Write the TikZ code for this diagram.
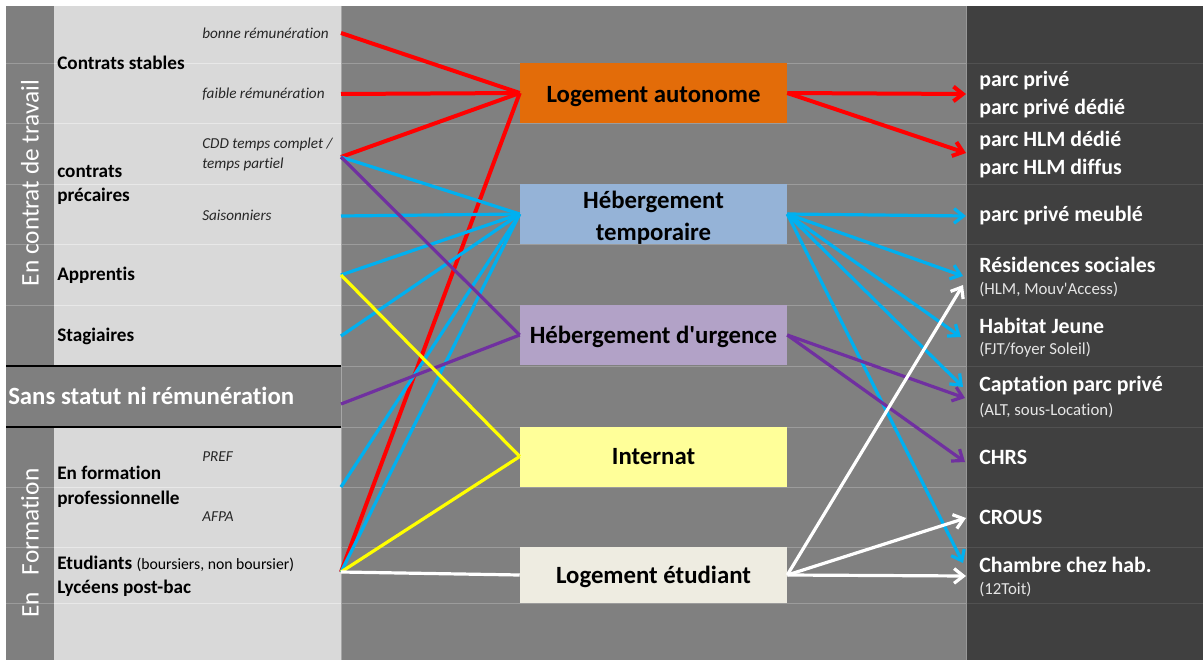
\documentclass[tikz,border=0pt]{standalone}
\usepackage{fontspec}
\setmainfont{Carlito}[Ligatures={TeXOff,NoCommon}]
\usetikzlibrary{arrows.meta}

\definecolor{stripgray}{HTML}{7F7F7F}
\definecolor{panelgray}{HTML}{D9D9D9}
\definecolor{midgray}{HTML}{808080}
\definecolor{darkpanel}{HTML}{404040}
\definecolor{autoorange}{HTML}{E36C09}
\definecolor{tempblue}{HTML}{95B3D7}
\definecolor{urgpurple}{HTML}{B2A2C7}
\definecolor{internyellow}{HTML}{FFFF99}
\definecolor{etudbeige}{HTML}{EEECE1}
\definecolor{linkred}{HTML}{FF0000}
\definecolor{linkblue}{HTML}{00B0F0}
\definecolor{linkpurple}{HTML}{7030A0}
\definecolor{linkyellow}{HTML}{FFFF00}

% lower a box text without changing the box size
\newcommand{\lowtext}[2]{\raisebox{-#1}[\height][\depth]{#2}}

\begin{document}
\begin{tikzpicture}[x=0.75pt, y=-0.75pt,
  srclab/.style={anchor=west, inner sep=0pt, align=left,
    font=\fontsize{14.4}{18.5}\selectfont\bfseries},
  sublab/.style={anchor=west, inner sep=0pt, align=left,
    font=\fontsize{11.4}{15}\selectfont\itshape, text=black!85},
  dstlab/.style={anchor=west, inner sep=0pt, text=white,
    font=\fontsize{16.4}{20}\selectfont\bfseries},
  dstnote/.style={anchor=west, inner sep=0pt, text=white!90!black,
    font=\fontsize{12.6}{14}\selectfont},
  sidelab/.style={rotate=90, inner sep=0pt, text=white,
    font=\fontsize{19}{22}\selectfont},
  hbox/.style={minimum width=200.25pt, minimum height=45pt, inner sep=0pt,
    align=center, font=\fontsize{18.6}{24}\selectfont\bfseries},
  link/.style={line width=2.4pt},
  tip/.style={-{Straight Barb[length=7pt,width=11pt]}}]

  % ------------------------------------------------------------
  % column limits (pixel grid, y downwards)
  % ------------------------------------------------------------
  \def\xS{6}      % left edge
  \def\xP{54}     % end of side strip
  \def\xL{341}    % end of left panel
  \def\xR{966}    % start of right panel
  \def\xE{1203}   % right edge

  \useasboundingbox (0,0) rectangle (1203,660);
  \fill[white] (0,0) rectangle (1203,660);

  % 1. Background panels
  \fill[stripgray] (\xS,6) rectangle (\xP,660);
  \fill[panelgray] (\xP,6) rectangle (\xL,366);
  \fill[stripgray] (\xS,366) rectangle (\xL,427);
  \fill[panelgray] (\xP,427) rectangle (\xL,660);
  \fill[midgray] (\xL,6) rectangle (\xR,660);
  \fill[darkpanel] (\xR,6) rectangle (\xE,660);

  % faint row lines
  \foreach \gy in {63,123,184,244,305,487,547,603}{
    \draw[line width=0.6pt, black!9] (\xP,\gy) -- (\xL,\gy);
    \draw[line width=0.6pt, white!22!stripgray] (\xS,\gy) -- (\xP,\gy);
  }
  \foreach \gy in {63,123,184,244,305,366,427,487,547,603}{
    \draw[line width=0.6pt, white!22!midgray] (\xL,\gy) -- (\xR,\gy);
    \draw[line width=0.6pt, white!9!darkpanel] (\xR,\gy) -- (\xE,\gy);
  }
  \draw[line width=0.6pt, white!30!midgray] (\xL,6) -- (\xL,660);
  \draw[line width=0.6pt, white!18!midgray] (\xR,6) -- (\xR,660);

  % black separators around the "sans statut" band
  \draw[line width=1.5pt, black] (\xS,366) -- (\xL,366);
  \draw[line width=1.5pt, black] (\xS,427) -- (\xL,427);

  % 2. Left column labels
  \node[sidelab] (contrat) at (30,183) {En contrat de travail};
  \node[sidelab] (formation) at (30,543) {En\hspace{0.65em}Formation};

  \node[srclab] (stables) at (57,63) {Contrats stables};
  \node[srclab] (precaires) at (57,185) {contrats\\précaires};
  \node[srclab] (apprentis) at (57,275) {Apprentis};
  \node[srclab] (stagiaires) at (57,336) {Stagiaires};
  \node[srclab] (profession) at (57,487) {En formation\\professionnelle};
  \node[srclab] (etudiants) at (57,564) {Etudiants {\fontsize{11.8}{14}\selectfont\mdseries (boursiers, non boursier)}};
  \node[srclab] (lyceens) at (57,588) {Lycéens post-bac};
  \node[anchor=west, inner sep=0pt, text=white,
        font=\fontsize{18.6}{22}\selectfont\bfseries] (sansstatut) at (8,396) {Sans statut ni rémunération};

  \node[sublab] (bonnerem) at (202,33) {bonne rémunération};
  \node[sublab] (faiblerem) at (202,94) {faible rémunération};
  \node[sublab] (cddlab) at (202,154) {CDD temps complet /\\temps partiel};
  \node[sublab] (saisonlab) at (202,215) {Saisonniers};
  \node[sublab] (preflab) at (202,457) {PREF};
  \node[sublab] (afpalab) at (202,517) {AFPA};

  % start points on the panel edge
  \coordinate (bonne) at (\xL,33);
  \coordinate (faible) at (\xL,94);
  \coordinate (cdd) at (\xL,157);
  \coordinate (saison) at (\xL,216);
  \coordinate (appr) at (\xL,275);
  \coordinate (stag) at (\xL,336);
  \coordinate (sansst) at (\xL,404);
  \coordinate (form) at (\xL,487);
  \coordinate (etud) at (\xL,572);

  % 3. Housing boxes
  \node[hbox, fill=autoorange] (autonome) at (653.5,93) {\lowtext{2.5pt}{Logement autonome}};
  \node[hbox, fill=tempblue] (temporaire) at (653.5,214) {\lowtext{3pt}{Hébergement}\\\lowtext{3pt}{temporaire}};
  \node[hbox, fill=urgpurple] (urgence) at (653.5,335) {\lowtext{1.5pt}{Hébergement d'urgence}};
  \node[hbox, fill=internyellow] (internat) at (653.5,456.5) {Internat};
  \node[hbox, fill=etudbeige, minimum height=42pt] (etudiant) at (653.5,575) {\lowtext{1.5pt}{Logement étudiant}};

  % 4. Right column labels
  \node[dstlab] (prive) at (979,81) {parc privé};
  \node[dstlab] (privededie) at (979,109) {parc privé dédié};
  \node[dstlab] (hlmdedie) at (979,141) {parc HLM dédié};
  \node[dstlab] (hlmdiffus) at (979,169) {parc HLM diffus};
  \node[dstlab] (meuble) at (979,216) {parc privé meublé};
  \node[dstlab] (residences) at (979,265) {Résidences sociales};
  \node[dstnote] (residnote) at (979,290) {(HLM, Mouv'Access)};
  \node[dstlab] (jeune) at (979,326) {Habitat Jeune};
  \node[dstnote] (jeunenote) at (979,350) {(FJT/foyer Soleil)};
  \node[dstlab] (captation) at (979,386) {Captation parc privé};
  \node[dstnote] (captnote) at (979,411) {(ALT, sous-Location)};
  \node[dstlab] (chrs) at (979,457) {CHRS};
  \node[dstlab] (crous) at (979,517) {CROUS};
  \node[dstlab] (chambre) at (979,565) {Chambre chez hab.};
  \node[dstnote] (chambrenote) at (979,590) {(12Toit)};

  % arrow ends on the right panel edge
  \coordinate (toprive) at (\xR,94);
  \coordinate (tohlm) at (\xR,153);
  \coordinate (tomeuble) at (\xR,216);
  \coordinate (toresidA) at (963,276);
  \coordinate (toresidB) at (963,285);
  \coordinate (tojeune) at (961,337);
  \coordinate (tocaptA) at (963,387);
  \coordinate (tocaptB) at (965,398);
  \coordinate (tochrs) at (965,462);
  \coordinate (tocrous) at (\xR,518);
  \coordinate (tochambreA) at (963,563);
  \coordinate (tochambreB) at (\xR,576);

  % 5. Links into the boxes
  \foreach \src in {bonne,faible,cdd,etud}
    \draw[link, line width=3pt, linkred] (\src) -- (autonome.west);
  \foreach \src in {cdd,saison,appr,stag,form,etud}
    \draw[link, linkblue] (\src) -- (temporaire.west);
  \foreach \src in {cdd,sansst}
    \draw[link, linkpurple] (\src) -- (urgence.west);
  \foreach \src in {appr,etud}
    \draw[link, linkyellow] (\src) -- (internat.west);
  \draw[link, white] (etud) -- (etudiant.west);

  % 6. Links out of the boxes
  \foreach \dst in {toprive,tohlm}
    \draw[link, line width=3pt, tip, linkred] (autonome.east) -- (\dst);
  \foreach \dst in {tomeuble,toresidA,tojeune,tocaptA,tochambreA}
    \draw[link, tip, linkblue] (temporaire.east) -- (\dst);
  \foreach \dst in {tocaptB,tochrs}
    \draw[link, tip, linkpurple] (urgence.east) -- (\dst);
  \foreach \dst in {toresidB,tocrous,tochambreB}
    \draw[link, tip, white] (etudiant.east) -- (\dst);
\end{tikzpicture}
\end{document}
